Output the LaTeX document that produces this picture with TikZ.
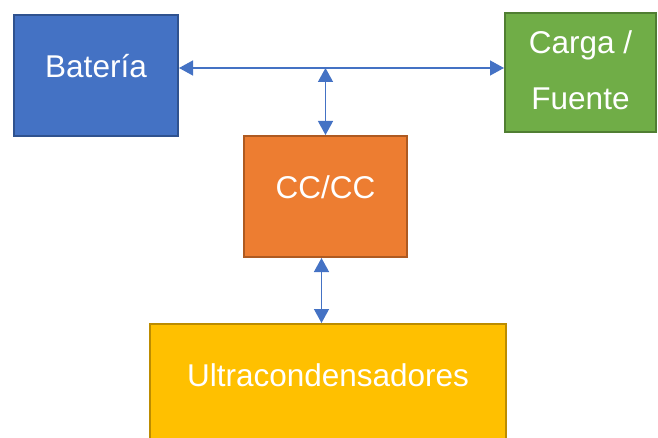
\documentclass[tikz,border=0pt]{standalone}
\usepackage{fontspec}
\setmainfont{Liberation Sans}
\usetikzlibrary{arrows.meta}
\definecolor{batfill}{HTML}{4472C4}
\definecolor{batline}{HTML}{2F528F}
\definecolor{cargafill}{HTML}{70AD47}
\definecolor{cargaline}{HTML}{507E32}
\definecolor{ccfill}{HTML}{ED7D31}
\definecolor{ccline}{HTML}{AE5A21}
\definecolor{ucfill}{HTML}{FFC000}
\definecolor{ucline}{HTML}{BC8C00}
\tikzset{
  block/.style={draw, line width=2pt, text=white, inner sep=0pt,
    font=\fontsize{31.5}{37}\selectfont, text height=12pt, text depth=7.5pt},
  flow/.style={draw=batfill, line width=1.3pt,
    {Triangle[length=14pt,width=15pt]}-{Triangle[length=14pt,width=15pt]}}
}
\begin{document}
\begin{tikzpicture}[x=1pt,y=-1pt]
  \path[use as bounding box] (0,0) rectangle (658,438);
  \clip (0,0) rectangle (658,438);
  \node[block, fill=batfill,   draw=batline,   minimum width=164pt, minimum height=121pt] (bat)   at (96,75.5)    {Batería};
  \node[block, fill=cargafill, draw=cargaline, minimum width=151pt, minimum height=119pt,
        align=center, font=\fontsize{31.5}{56}\selectfont, text height=80pt, text depth=6.4pt] (carga) at (580.5,72.5) {Carga /\\Fuente};
  \node[block, fill=ccfill,    draw=ccline,    minimum width=163pt, minimum height=121pt] (dcdc)  at (325.5,196.5) {CC/CC};
  \node[block, fill=ucfill,    draw=ucline,    minimum width=356pt, minimum height=120pt] (ultra) at (328,384)     {Ultracondensadores};
  \coordinate (bus) at (325,68);
  \draw[flow] (bat.east |- bus) -- (carga.west |- bus);
  \draw[flow] (dcdc.north |- bus) -- (dcdc.north);
  \draw[flow] ([xshift=-4pt]dcdc.south) -- ([xshift=-4pt]dcdc.south |- ultra.north);
\end{tikzpicture}
\end{document}
